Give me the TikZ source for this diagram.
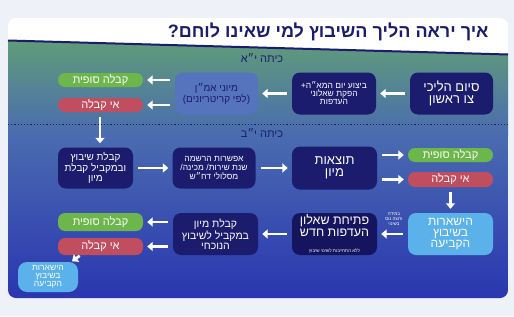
\documentclass[tikz,border=0pt]{standalone}
\usepackage{fontspec}
\usepackage{tikz}
\usetikzlibrary{arrows.meta,positioning}
\TeXXeTstate=1
\newfontfamily\hebfont[Script=Hebrew]{Liberation Sans}
\newcommand{\heb}[1]{\beginR#1\endR}
\definecolor{pagebg}{HTML}{EEF2F8}
\definecolor{navy}{HTML}{1C1C6E}
\definecolor{deepnavy}{HTML}{15155F}
\definecolor{softblue}{HTML}{5673BE}
\definecolor{okgreen}{HTML}{6DB64C}
\definecolor{nored}{HTML}{C04E5F}
\definecolor{skyblue}{HTML}{5BB2EA}
\definecolor{topgreen}{HTML}{5F9C79}
\definecolor{midtone}{HTML}{4A6BB0}
\definecolor{lowblue}{HTML}{2A36B0}
\tikzset{
  box/.style    ={rounded corners=8pt,fill=navy,text=white,align=center,
                  inner sep=2pt,minimum width=84pt,minimum height=42pt},
  softbox/.style={box,fill=softblue,text=navy},
  staybox/.style={box,fill=skyblue,text=white},
  pill/.style   ={rounded corners=7pt,text=white,inner sep=1pt,
                  minimum width=85pt,minimum height=14pt,
                  font=\hebfont\fontsize{11}{12}\selectfont},
  okpill/.style ={pill,fill=okgreen},
  nopill/.style ={pill,fill=nored},
  grade/.style  ={text=navy,font=\hebfont\fontsize{11}{12}\selectfont},
  flow/.style   ={-{Triangle[length=5.5pt,width=9pt]},line width=2.6pt,draw=white,
                  shorten <=5pt,shorten >=4pt}
}

\begin{document}
\begin{tikzpicture}[x=1pt,y=-1pt,font=\hebfont]
  % page and card
  \fill[pagebg] (0,0) rectangle (514,316);
  \begin{scope}
    \clip[rounded corners=8pt] (8,18) rectangle (508,298);
    \fill[white] (8,18) rectangle (508,60);
    \shade[top color=topgreen,bottom color=midtone] (8,40) -- (508,54) -- (508,136) -- (8,136) -- cycle;
    \shade[top color=midtone,bottom color=lowblue] (8,135.5) rectangle (508,298);
  \end{scope}
  \draw[navy,line width=2pt] (8,40.5) -- (508,54.5);
  \draw[navy,dotted,line width=1.2pt] (8,124.5) -- (508,124.5);

  \node[anchor=east,text=navy,font=\hebfont\bfseries\fontsize{18}{20}\selectfont] (title) at (492,32)
    {\heb{איך יראה הליך השיבוץ למי שאינו לוחם?}};
  \node[grade] (grade11) at (262,58) {\heb{כיתה י״א}};
  \node[grade] (grade12) at (262,133) {\heb{כיתה י״ב}};

  % grade 11
  \node[box,minimum width=83pt,font=\hebfont\fontsize{13}{12}\selectfont] (end1) at (451.5,93.5)
    {\heb{סיום הליכי}\\\heb{צו ראשון}};
  \node[box,font=\hebfont\fontsize{8.5}{8}\selectfont] (maa) at (334,93.5)
    {\heb{ביצוע יום המא״ה+}\\\heb{הפקת שאלוני}\\\heb{העדפות}};
  \node[softbox,minimum width=83pt,font=\hebfont\fontsize{10}{10}\selectfont] (aman) at (216.5,93.5)
    {\heb{מיוני אמ״ן}\\\heb{(לפי קריטריונים)}};
  \node[okpill] (ok1) at (100.5,80) {\heb{קבלה סופית}};
  \node[nopill] (no1) at (100.5,105) {\heb{אי קבלה}};

  \draw[flow] (end1) -- (maa);
  \draw[flow] (maa) -- (aman);
  \draw[flow] (aman.west |- ok1) -- (ok1.east);
  \draw[flow] (aman.west |- no1) -- (no1.east);

  % grade 12
  \node[box,minimum width=75pt,minimum height=41pt,font=\hebfont\fontsize{10}{10}\selectfont] (shivutz) at (95.5,168)
    {\heb{קבלת שיבוץ}\\\heb{ובמקביל קבלת}\\\heb{מיון}};
  \node[box,minimum width=83pt,minimum height=41pt,font=\hebfont\fontsize{8.5}{9}\selectfont] (reg) at (214,168)
    {\heb{אפשרות הרשמה}\\\heb{שנת שירות/ מכינה/}\\\heb{מסלולי דח״ש}};
  \node[box,minimum width=85pt,minimum height=43pt,font=\hebfont\fontsize{13}{12}\selectfont] (res) at (334.5,168)
    {\heb{תוצאות}\\\heb{מיון}};
  \node[okpill] (ok2) at (450.5,155) {\heb{קבלה סופית}};
  \node[nopill,minimum height=15pt] (no2) at (450.5,179.5) {\heb{אי קבלה}};

  \draw[flow] (no1.south -| 100,0) -- (100,0 |- shivutz.north);
  \draw[flow] (shivutz) -- (reg);
  \draw[flow] (reg) -- (res);
  \draw[flow] (res.east |- ok2) -- (ok2.west);
  \draw[flow] (res.east |- no2) -- (no2.west);

  % second round
  \node[staybox,minimum width=85pt,font=\hebfont\fontsize{12}{11}\selectfont] (stay1) at (450.5,234)
    {\heb{הישארות}\\\heb{בשיבוץ}\\\heb{הקביעה}};
  \node[box,fill=deepnavy,minimum width=85pt,inner sep=1pt,font=\hebfont\fontsize{12.5}{12.5}\selectfont] (newq) at (334.5,234)
    {\heb{פתיחת שאלון}\\\heb{העדפות חדש}\\[3.5pt]{\fontsize{4.5}{5}\selectfont\heb{ללא התחייבות לשינוי שיבוץ}}};
  \node[box,minimum width=85pt,font=\hebfont\fontsize{10.5}{10}\selectfont] (miun3) at (215.5,234)
    {\heb{קבלת מיון}\\\heb{במקביל לשיבוץ}\\\heb{הנוכחי}};
  \node[okpill,minimum height=18pt] (ok3) at (100.5,222) {\heb{קבלה סופית}};
  \node[nopill,minimum height=17pt] (no3) at (100.5,246.5) {\heb{אי קבלה}};
  \node[staybox,minimum width=60pt,minimum height=30pt,rounded corners=9pt,
        font=\hebfont\fontsize{8.5}{8}\selectfont] (stay2) at (48,277)
    {\heb{הישארות}\\\heb{בשיבוץ}\\\heb{הקביעה}};
  \node[text=white,align=center,font=\hebfont\fontsize{4.5}{5}\selectfont] (ifwant) at (394,219.5)
    {\heb{במידה}\\\heb{ורוצה נוס}\\\heb{בשינוי}};

  \draw[flow] (no2) -- (stay1);
  \draw[flow] (stay1) -- (newq);
  \draw[flow] (newq) -- (miun3);
  \draw[flow] (miun3.west |- ok3) -- (ok3.east);
  \draw[flow] (miun3.west |- no3) -- (no3.east);
  \draw[flow,shorten <=1pt,shorten >=1pt] ([xshift=-20pt]no3.south) -- ([xshift=-7pt]stay2.north east);
\end{tikzpicture}
\end{document}
